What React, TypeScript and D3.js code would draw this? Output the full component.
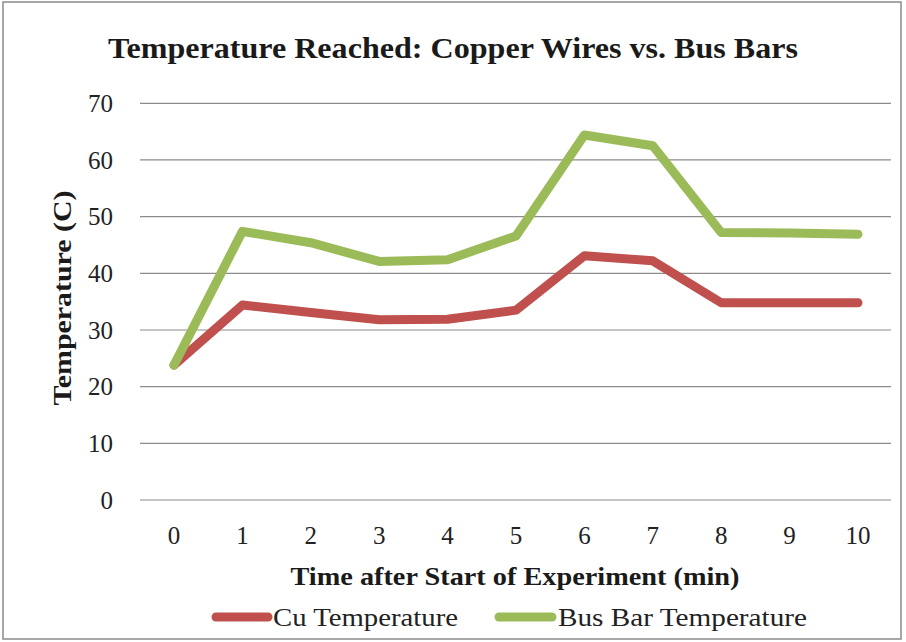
import React from 'react';
import * as d3 from 'd3';

// chart data
const minutes = [0, 1, 2, 3, 4, 5, 6, 7, 8, 9, 10];
const cuTemp = [23.8, 34.4, 33.1, 31.8, 31.9, 33.5, 43.1, 42.2, 34.8, 34.8, 34.8];
const busBarTemp = [23.8, 47.4, 45.4, 42.1, 42.4, 46.6, 64.4, 62.5, 47.2, 47.1, 46.9];
const yTicks = [0, 10, 20, 30, 40, 50, 60, 70];
const seriesNames = ['Cu Temperature', 'Bus Bar Temperature'];
const seriesColors = ['#c0504d', '#9bbb59'];

const W = 906;
const H = 642;
const serif = '"Liberation Serif", "Times New Roman", serif';

export default function App() {
  const x = d3.scaleLinear().domain([0, 10]).range([174, 858]);
  const y = d3.scaleLinear().domain([0, 70]).range([500, 103.3]);

  const line = d3.line<number>()
    .x((_, i) => x(minutes[i]))
    .y(d => y(d));

  const series = [cuTemp, busBarTemp];

  return (
    <div style={{ position: 'absolute', left: 0, top: 0 }}>
      <svg width={W} height={H} style={{ display: 'block', background: '#fff' }}>
        <rect x={3} y={2} width={898} height={637} fill="#fff" stroke="#8a8a8a" strokeWidth={1.5} />

        <text x={453} y={58} textAnchor="middle" fontFamily={serif} fontWeight="bold"
          fontSize={30} fill="#1a1a1a" textLength={690} lengthAdjust="spacingAndGlyphs">
          Temperature Reached: Copper Wires vs. Bus Bars
        </text>

        {/* gridlines + y ticks */}
        {yTicks.map(t => (
          <g key={t}>
            <line x1={140} x2={891} y1={y(t)} y2={y(t)} stroke="#8c8c8c" strokeWidth={1.2} />
            <text x={113} y={y(t)} dy="0.35em" textAnchor="end" fontFamily={serif}
              fontSize={25} fill="#222">{t}</text>
          </g>
        ))}

        {/* x ticks */}
        {minutes.map(m => (
          <text key={m} x={x(m)} y={544} textAnchor="middle" fontFamily={serif}
            fontSize={25} fill="#222">{m}</text>
        ))}

        {series.map((s, i) => (
          <path key={i} d={line(s) || ''} fill="none" stroke={seriesColors[i]}
            strokeWidth={9} strokeLinejoin="round" strokeLinecap="round" />
        ))}

        <text x={515} y={585} textAnchor="middle" fontFamily={serif} fontWeight="bold"
          fontSize={26} fill="#1a1a1a" textLength={449} lengthAdjust="spacingAndGlyphs">
          Time after Start of Experiment (min)
        </text>

        <text transform="translate(71,298) rotate(-90)" textAnchor="middle" fontFamily={serif}
          fontWeight="bold" fontSize={26} fill="#1a1a1a" textLength={215} lengthAdjust="spacingAndGlyphs">
          Temperature (C)
        </text>

        {/* legend */}
        <line x1={216} x2={268} y1={617} y2={617} stroke={seriesColors[0]} strokeWidth={9} strokeLinecap="round" />
        <text x={273} y={626} fontFamily={serif} fontSize={25} fill="#222"
          textLength={185} lengthAdjust="spacingAndGlyphs">{seriesNames[0]}</text>
        <line x1={499} x2={552} y1={617} y2={617} stroke={seriesColors[1]} strokeWidth={9} strokeLinecap="round" />
        <text x={558} y={626} fontFamily={serif} fontSize={25} fill="#222"
          textLength={249} lengthAdjust="spacingAndGlyphs">{seriesNames[1]}</text>
      </svg>
    </div>
  );
}
